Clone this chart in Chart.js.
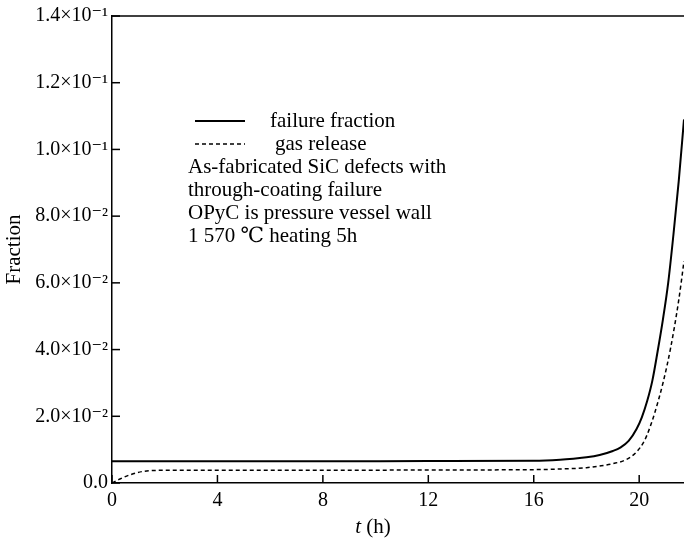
<!DOCTYPE html>
<html>
<head>
<meta charset="utf-8">
<script src="https://cdn.jsdelivr.net/npm/chart.js@4.4.1/dist/chart.umd.min.js"></script>
<style>
  html, body { margin: 0; padding: 0; background: #fff; }
  #wrap { width: 684px; height: 539px; position: relative; }
</style>
</head>
<body>
<div id="wrap"><canvas id="myChart"></canvas></div>
<script>
// values
const failTimes = [0, 4, 8, 12, 16, 17, 17.5, 18, 18.5, 19, 19.3, 19.6, 19.9, 20.1, 20.3, 20.5, 20.7, 20.9, 21.1, 21.3, 21.5, 21.7];
const failFraction = [0.0065, 0.0065, 0.0065, 0.0066, 0.0067, 0.0070, 0.0073, 0.0077, 0.0084, 0.0096, 0.0107, 0.0126, 0.0162, 0.0197, 0.0245, 0.0307, 0.0395, 0.0490, 0.0600, 0.0745, 0.0905, 0.109];

const gasTimes = [0, 0.3, 0.7, 1.2, 2, 4, 8, 12, 16, 17, 18, 18.5, 19, 19.5, 19.9, 20.2, 20.4, 20.6, 20.9, 21.2, 21.5, 21.7];
const gasRelease = [0, 0.0012, 0.0025, 0.0035, 0.0038, 0.0038, 0.0038, 0.0039, 0.0040, 0.0042, 0.0046, 0.0051, 0.0058, 0.0070, 0.0093, 0.0127, 0.0165, 0.0213, 0.0299, 0.0408, 0.0548, 0.0665];

const seriesNames = ['failure fraction', 'gas release'];
const noteLines = [
    'As-fabricated SiC defects with',
    'through-coating failure',
    'OPyC is pressure vessel wall',
    '1 570 \u2103 heating 5h'
];

const serif = "'Liberation Serif', 'Times New Roman', 'DejaVu Serif', serif";

function toPoints(xs, ys) {
    return xs.map((x, i) => ({ x: x, y: ys[i] }));
}

const sup = { '-': '\u207B', '0': '\u2070', '1': '\u00B9', '2': '\u00B2', '3': '\u00B3' };

function sciLabel(v) {
    if (Math.abs(v) < 1e-9) return '0.0';
    const e = Math.floor(Math.log10(v) + 1e-9);
    const m = v / Math.pow(10, e);
    const es = String(e).split('').map(c => sup[c] || c).join('');
    return m.toFixed(1) + '\u00D710' + es;
}

// inner tick marks, top frame line, legend/notes and x title
const extras = {
    id: 'extras',
    afterDraw(chart) {
        const ctx = chart.ctx;
        const area = chart.chartArea;
        const xs = chart.scales.x;
        const ys = chart.scales.y;
        ctx.save();
        ctx.strokeStyle = '#000';
        ctx.lineWidth = 1.5;
        ctx.setLineDash([]);

        // top line
        ctx.beginPath();
        ctx.moveTo(area.left, area.top);
        ctx.lineTo(area.right, area.top);
        ctx.stroke();

        // inner ticks
        ys.ticks.forEach(t => {
            const py = ys.getPixelForValue(t.value);
            ctx.beginPath();
            ctx.moveTo(area.left, py);
            ctx.lineTo(area.left + 8, py);
            ctx.stroke();
        });
        xs.ticks.forEach(t => {
            const px = xs.getPixelForValue(t.value);
            ctx.beginPath();
            ctx.moveTo(px, area.bottom);
            ctx.lineTo(px, area.bottom - 8);
            ctx.stroke();
        });

        // legend
        ctx.font = '21px ' + serif;
        ctx.fillStyle = '#000';
        ctx.textBaseline = 'middle';
        const lx = area.left + 83;
        const rows = [121, 144];
        chart.data.datasets.forEach((ds, i) => {
            ctx.lineWidth = ds.borderWidth;
            ctx.setLineDash(ds.borderDash || []);
            ctx.beginPath();
            ctx.moveTo(lx, rows[i]);
            ctx.lineTo(lx + 50, rows[i]);
            ctx.stroke();
            ctx.setLineDash([]);
            ctx.fillText(ds.label, lx + 75 + i * 5, rows[i]);
        });
        noteLines.forEach((s, i) => {
            ctx.fillText(s, area.left + 76, 167 + i * 23);
        });

        // x title: italic t + (h)
        const cx = xs.getPixelForValue(9.9);
        const ty = 527;
        ctx.font = 'italic 21px ' + serif;
        const w1 = ctx.measureText('t').width;
        ctx.font = '21px ' + serif;
        const w2 = ctx.measureText(' (h)').width;
        const start = cx - (w1 + w2) / 2;
        ctx.font = 'italic 21px ' + serif;
        ctx.fillText('t', start, ty);
        ctx.font = '21px ' + serif;
        ctx.fillText(' (h)', start + w1, ty);
        ctx.restore();
    }
};

const ctx = document.getElementById('myChart').getContext('2d');
const myChart = new Chart(ctx, {
    type: 'line',
    data: {
        datasets: [{
            label: seriesNames[0],
            data: toPoints(failTimes, failFraction),
            borderColor: '#000',
            borderWidth: 2,
            pointRadius: 0,
            cubicInterpolationMode: 'monotone',
            fill: false
        }, {
            label: seriesNames[1],
            data: toPoints(gasTimes, gasRelease),
            borderColor: '#000',
            borderWidth: 1.5,
            borderDash: [4, 3],
            pointRadius: 0,
            cubicInterpolationMode: 'monotone',
            fill: false
        }]
    },
    options: {
        responsive: true,
        maintainAspectRatio: false,
        animation: false,
        layout: { padding: { top: 15, right: 0, left: 0, bottom: 0 } },
        plugins: {
            legend: { display: false },
            tooltip: { enabled: false }
        },
        scales: {
            x: {
                type: 'linear',
                min: 0,
                max: 21.7,
                grid: { drawOnChartArea: false, drawTicks: false },
                border: { color: '#000', width: 1.5 },
                ticks: {
                    stepSize: 4,
                    includeBounds: false,
                    color: '#000',
                    padding: 6,
                    maxRotation: 0,
                    font: { family: serif, size: 20 }
                },
                afterFit(s) { s.height = 56; }
            },
            y: {
                min: 0,
                max: 0.14,
                grid: { drawOnChartArea: false, drawTicks: false },
                border: { color: '#000', width: 1.5 },
                ticks: {
                    stepSize: 0.02,
                    color: '#000',
                    padding: 4,
                    font: { family: serif, size: 20 },
                    callback: v => sciLabel(v)
                },
                title: {
                    display: true,
                    text: 'Fraction',
                    color: '#000',
                    padding: { top: 2, bottom: 0 },
                    font: { family: serif, size: 21 }
                },
                afterFit(s) { s.width = 112; }
            }
        }
    },
    plugins: [extras]
});
</script>
</body>
</html>
